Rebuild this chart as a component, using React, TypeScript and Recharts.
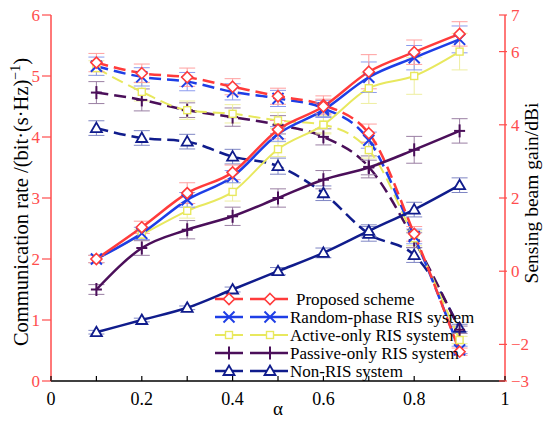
import { ComposedChart, Line, XAxis, YAxis, ErrorBar } from "recharts";

// α values on the x axis
const alpha = [0.1, 0.2, 0.3, 0.4, 0.5, 0.6, 0.7, 0.8, 0.9];

// communication rate (left axis, solid lines)
const rateProposed = [2.0, 2.52, 3.08, 3.42, 4.12, 4.5, 5.07, 5.39, 5.69];
const rateRandom = [2.0, 2.42, 2.97, 3.35, 4.05, 4.44, 4.98, 5.3, 5.6];
const rateActive = [2.0, 2.4, 2.79, 3.1, 3.8, 4.2, 4.8, 5.0, 5.4];
const ratePassive = [1.5, 2.18, 2.48, 2.7, 3.0, 3.3, 3.5, 3.79, 4.1];
const rateNonRis = [0.8, 1.0, 1.2, 1.5, 1.8, 2.1, 2.46, 2.81, 3.21];

const errRateProposed = [0.06, 0.1, 0.17, 0.12, 0.15, 0.12, 0.28, 0.2, 0.2];
const errRateRandom = [0.06, 0.1, 0.12, 0.1, 0.12, 0.12, 0.25, 0.2, 0.22];
const errRateActive = [0.06, 0.08, 0.12, 0.15, 0.12, 0.15, 0.25, 0.3, 0.3];
const errRatePassive = [0.08, 0.12, 0.15, 0.15, 0.15, 0.15, 0.12, 0.22, 0.2];
const errRateNonRis = [0.03, 0.03, 0.03, 0.04, 0.06, 0.08, 0.1, 0.12, 0.12];

// sensing beam gain (right axis, dashed lines)
const gainProposed = [5.7, 5.41, 5.3, 5.04, 4.78, 4.54, 3.77, 1.02, -2.2];
const gainRandom = [5.6, 5.31, 5.18, 4.9, 4.72, 4.45, 3.58, 0.95, -2.15];
const gainActive = [5.55, 4.9, 4.4, 4.3, 4.12, 4.0, 3.31, 0.9, -1.88];
const gainPassive = [4.88, 4.68, 4.4, 4.21, 4.0, 3.67, 2.85, 0.85, -1.6];
const gainNonRis = [3.91, 3.64, 3.54, 3.13, 2.87, 2.13, 1.02, 0.44, -1.55];

const errGainProposed = [0.25, 0.25, 0.25, 0.22, 0.22, 0.25, 0.25, 0.2, 0.1];
const errGainRandom = [0.25, 0.25, 0.25, 0.22, 0.22, 0.22, 0.22, 0.2, 0.1];
const errGainActive = [0.2, 0.25, 0.25, 0.25, 0.22, 0.22, 0.22, 0.2, 0.1];
const errGainPassive = [0.3, 0.3, 0.2, 0.25, 0.25, 0.22, 0.3, 0.2, 0.1];
const errGainNonRis = [0.2, 0.2, 0.2, 0.2, 0.22, 0.2, 0.2, 0.2, 0.1];

const xTicks = [0, 0.1, 0.2, 0.3, 0.4, 0.5, 0.6, 0.7, 0.8, 0.9, 1];
const xTickLabels = [0, 0.2, 0.4, 0.6, 0.8, 1];
const rateTicks = [0, 1, 2, 3, 4, 5, 6];
const gainTicks = [-3, -2, 0, 2, 4, 6, 7];

const FONT = "'Liberation Serif', 'DejaVu Serif', serif";
const AXIS_RED = "#ff4d4d";

type Shape = "diamond" | "x" | "square" | "plus" | "triangle";

const series: {
  key: string;
  name: string;
  color: string;
  barColor: string;
  shape: Shape;
  width: number;
  rate: number[];
  rateErr: number[];
  gain: number[];
  gainErr: number[];
}[] = [
  { key: "nonris", name: "Non-RIS system", color: "#101c8c", barColor: "#7f86c4", shape: "triangle", width: 2.5, rate: rateNonRis, rateErr: errRateNonRis, gain: gainNonRis, gainErr: errGainNonRis },
  { key: "passive", name: "Passive-only RIS system", color: "#4b0f5a", barColor: "#9a7fa3", shape: "plus", width: 2.5, rate: ratePassive, rateErr: errRatePassive, gain: gainPassive, gainErr: errGainPassive },
  { key: "active", name: "Active-only RIS system", color: "#e8e85e", barColor: "#eeeea0", shape: "square", width: 2, rate: rateActive, rateErr: errRateActive, gain: gainActive, gainErr: errGainActive },
  { key: "random", name: "Random-phase RIS system", color: "#1e3ee6", barColor: "#8b9bef", shape: "x", width: 2.5, rate: rateRandom, rateErr: errRateRandom, gain: gainRandom, gainErr: errGainRandom },
  { key: "proposed", name: "Proposed scheme", color: "#ff3b3b", barColor: "#ff9f9f", shape: "diamond", width: 2.5, rate: rateProposed, rateErr: errRateProposed, gain: gainProposed, gainErr: errGainProposed },
];

const legendOrder = ["proposed", "random", "active", "passive", "nonris"];

const rows = alpha.map((a, i) => {
  const row: Record<string, number> = { alpha: a };
  series.forEach((s) => {
    row[`rate_${s.key}`] = s.rate[i];
    row[`rateErr_${s.key}`] = s.rateErr[i];
    row[`gain_${s.key}`] = s.gain[i];
    row[`gainErr_${s.key}`] = s.gainErr[i];
  });
  return row;
});

function Marker({ cx, cy, shape, color }: { cx: number; cy: number; shape: Shape; color: string }) {
  if (cx == null || cy == null) return null;
  switch (shape) {
    case "diamond":
      return (
        <polygon
          points={`${cx},${cy - 5.5} ${cx + 5.5},${cy} ${cx},${cy + 5.5} ${cx - 5.5},${cy}`}
          fill="#fff"
          stroke={color}
          strokeWidth={1.6}
        />
      );
    case "x":
      return (
        <g stroke={color} strokeWidth={2}>
          <line x1={cx - 5.5} y1={cy - 5.5} x2={cx + 5.5} y2={cy + 5.5} />
          <line x1={cx - 5.5} y1={cy + 5.5} x2={cx + 5.5} y2={cy - 5.5} />
        </g>
      );
    case "square":
      return <rect x={cx - 3.5} y={cy - 3.5} width={7} height={7} fill="#fff" stroke={color} strokeWidth={1.4} />;
    case "plus":
      return (
        <g stroke={color} strokeWidth={2}>
          <line x1={cx - 5.5} y1={cy} x2={cx + 5.5} y2={cy} />
          <line x1={cx} y1={cy - 6.5} x2={cx} y2={cy + 6.5} />
        </g>
      );
    default:
      return (
        <polygon
          points={`${cx},${cy - 5.5} ${cx + 5.5},${cy + 4} ${cx - 5.5},${cy + 4}`}
          fill="#fff"
          stroke={color}
          strokeWidth={1.8}
        />
      );
  }
}

function BottomTick(props: any) {
  const { x, y, payload } = props;
  const v = payload.value as number;
  const show = xTickLabels.some((t) => Math.abs(t - v) < 1e-9);
  return (
    <g>
      <line x1={x} y1={y} x2={x} y2={y - 5} stroke="#000" strokeWidth={1.2} />
      {show && (
        <text x={x} y={y + 24} textAnchor="middle" fontSize={18} fontFamily={FONT} fill="#000">
          {String(Number(v.toFixed(1)))}
        </text>
      )}
    </g>
  );
}

function TopTick(props: any) {
  const { x, y } = props;
  return <line x1={x} y1={y} x2={x} y2={y + 5} stroke="#000" strokeWidth={1.2} />;
}

function RightTick(props: any) {
  const { x, y, payload } = props;
  const v = payload.value as number;
  return (
    <g>
      <line x1={x - 11} y1={y} x2={x - 3} y2={y} stroke={AXIS_RED} strokeWidth={1.2} />
      <text x={x + 1} y={y + 6} textAnchor="start" fontSize={17} fontFamily={FONT} fill={AXIS_RED}>
        {v < 0 ? `\u2212${Math.abs(v)}` : String(v)}
      </text>
    </g>
  );
}

function Legend() {
  const items = legendOrder.map((k) => series.find((s) => s.key === k)!);
  return (
    <g>
      {items.map((s, i) => {
        const cy = 299 + i * 18;
        return (
          <g key={s.key}>
            <line x1={215} y1={cy} x2={243} y2={cy} stroke={s.color} strokeWidth={s.width} />
            <line x1={250} y1={cy} x2={288} y2={cy} stroke={s.color} strokeWidth={s.width} />
            <Marker cx={229} cy={cy} shape={s.shape} color={s.color} />
            <Marker cx={270} cy={cy} shape={s.shape} color={s.color} />
            <text x={s.key === "proposed" ? 296 : 290} y={cy + 6} fontSize={17} fontFamily={FONT} fill="#000">
              {s.name}
            </text>
          </g>
        );
      })}
    </g>
  );
}

export default function App() {
  return (
    <div style={{ position: "relative", width: 550, height: 421, background: "#fff" }}>
      <style>{`body{margin:0}`}</style>
      <ComposedChart
        width={550}
        height={421}
        data={rows}
        margin={{ top: 15, right: 0, bottom: 0, left: 0 }}
      >
        <XAxis
          xAxisId="bottom"
          dataKey="alpha"
          type="number"
          domain={[0, 1]}
          allowDataOverflow
          ticks={xTicks}
          interval={0}
          height={40}
          tickSize={0}
          tickMargin={0}
          tickLine={false}
          axisLine={{ stroke: "#000", strokeWidth: 1.5 }}
          tick={<BottomTick />}
        />
        <XAxis
          xAxisId="top"
          orientation="top"
          dataKey="alpha"
          type="number"
          domain={[0, 1]}
          allowDataOverflow
          ticks={xTicks}
          interval={0}
          height={0}
          tickSize={0}
          tickMargin={0}
          tickLine={false}
          axisLine={{ stroke: "#000", strokeWidth: 1.5 }}
          tick={<TopTick />}
        />
        <YAxis
          yAxisId="rate"
          orientation="left"
          type="number"
          domain={[0, 6]}
          allowDataOverflow
          ticks={rateTicks}
          interval={0}
          width={51}
          tickSize={9}
          tickMargin={2}
          axisLine={{ stroke: AXIS_RED, strokeWidth: 1.5 }}
          tickLine={{ stroke: AXIS_RED, strokeWidth: 1.2 }}
          tick={{ fill: AXIS_RED, fontSize: 17, fontFamily: FONT }}
        />
        <YAxis
          yAxisId="gain"
          orientation="right"
          type="number"
          domain={[-3, 7]}
          allowDataOverflow
          ticks={gainTicks}
          interval={0}
          width={45}
          tickSize={0}
          tickMargin={5}
          tickLine={false}
          axisLine={{ stroke: AXIS_RED, strokeWidth: 1.5 }}
          tick={<RightTick />}
        />
        {series.map((s) => (
          <Line
            key={`gain_${s.key}`}
            xAxisId="bottom"
            yAxisId="gain"
            type="monotone"
            dataKey={`gain_${s.key}`}
            stroke={s.color}
            strokeWidth={s.width}
            strokeDasharray="12 6"
            isAnimationActive={false}
            dot={(p: any) => <Marker key={p.index} cx={p.cx} cy={p.cy} shape={s.shape} color={s.color} />}
            activeDot={false}
          >
            <ErrorBar dataKey={`gainErr_${s.key}`} width={8} stroke={s.barColor} strokeWidth={1} direction="y" />
          </Line>
        ))}
        {series.map((s) => (
          <Line
            key={`rate_${s.key}`}
            xAxisId="bottom"
            yAxisId="rate"
            type="monotone"
            dataKey={`rate_${s.key}`}
            stroke={s.color}
            strokeWidth={s.width}
            isAnimationActive={false}
            dot={(p: any) => <Marker key={p.index} cx={p.cx} cy={p.cy} shape={s.shape} color={s.color} />}
            activeDot={false}
          >
            <ErrorBar dataKey={`rateErr_${s.key}`} width={8} stroke={s.barColor} strokeWidth={1} direction="y" />
          </Line>
        ))}
      </ComposedChart>
      <svg
        width={550}
        height={421}
        style={{ position: "absolute", left: 0, top: 0, pointerEvents: "none" }}
      >
        <text
          transform="translate(28,202) rotate(-90)"
          textAnchor="middle"
          fontSize={20.5}
          fontFamily={FONT}
          fill="#000"
        >
          Communication rate /(bit·(s·Hz)
          <tspan dy={-8} fontSize={14}>
            −1
          </tspan>
          <tspan dy={8}>)</tspan>
        </text>
        <text
          transform="translate(538,193) rotate(-90)"
          textAnchor="middle"
          fontSize={19.5}
          fontFamily={FONT}
          fill="#000"
        >
          Sensing beam gain/dBi
        </text>
        <text x={278} y={415} textAnchor="middle" fontSize={19} fontFamily={FONT} fill="#000">
          α
        </text>
        <Legend />
      </svg>
    </div>
  );
}
